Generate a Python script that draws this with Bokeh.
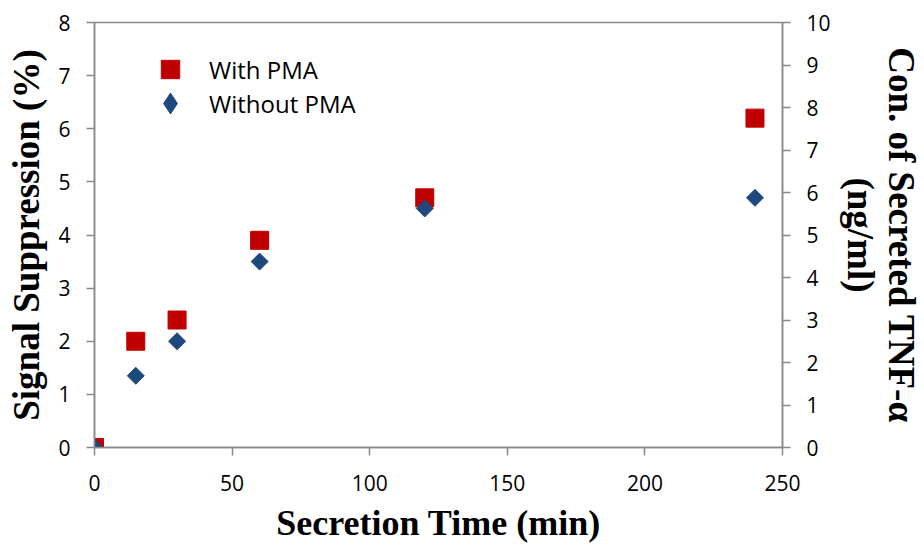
import math
from bokeh.plotting import figure
from bokeh.models import (Range1d, LinearAxis, FixedTicker, Legend, LegendItem,
                          ColumnDataSource, CDSView, IndexFilter)
from bokeh.embed import file_html
from bokeh.resources import INLINE

# ---- data ----
time_min = [0, 15, 30, 60, 120, 240]
with_pma = [0.0, 2.0, 2.4, 3.9, 4.7, 6.2]
without_pma = [0.0, 1.35, 2.0, 3.5, 4.5, 4.7]
x_ticks = [0, 50, 100, 150, 200, 250]
left_ticks = [0, 1, 2, 3, 4, 5, 6, 7, 8]
right_ticks = [0, 1, 2, 3, 4, 5, 6, 7, 8, 9, 10]

x_title = "Secretion Time (min)"
left_title = "Signal Suppression (%)"
right_title = "Con. of Secreted TNF-\u03b1\n(ng/ml)"

AXIS_COLOR = "#898989"
TICK_FONT = "Open Sans"
TITLE_FONT = "Liberation Serif"
RED = "#C00000"
BLUE = "#1F497D"

p = figure(width=924, height=545,
           x_range=Range1d(0, 250), y_range=Range1d(0, 8),
           output_backend="svg", toolbar_location=None,
           min_border_left=94, min_border_right=142,
           min_border_top=22, min_border_bottom=98)
p.extra_y_ranges = {"conc": Range1d(0, 10)}

p.xgrid.visible = False
p.ygrid.visible = False
p.outline_line_color = AXIS_COLOR
p.outline_line_width = 1.5
p.background_fill_color = "white"
p.border_fill_color = "white"

right_axis = LinearAxis(y_range_name="conc")
p.add_layout(right_axis, "right")

p.xaxis.ticker = FixedTicker(ticks=x_ticks)
p.yaxis[0].ticker = FixedTicker(ticks=left_ticks)
right_axis.ticker = FixedTicker(ticks=right_ticks)

for ax in [p.xaxis[0], p.yaxis[0], right_axis]:
    ax.axis_line_color = AXIS_COLOR
    ax.axis_line_width = 1.5
    ax.major_tick_line_color = AXIS_COLOR
    ax.major_tick_line_width = 1.5
    ax.major_tick_out = 8
    ax.major_tick_in = 0
    ax.minor_tick_line_color = None
    ax.major_label_text_font = TICK_FONT
    ax.major_label_text_font_size = "21px"
    ax.major_label_text_color = "black"
    ax.axis_label_text_font = TITLE_FONT
    ax.axis_label_text_font_style = "bold"
    ax.axis_label_text_font_size = "37px"
    ax.axis_label_text_color = "black"

bx = p.xaxis[0]
bx.axis_label = x_title
bx.axis_label_text_font_size = "36px"
bx.major_label_standoff = 19
bx.axis_label_standoff = 9

ly = p.yaxis[0]
ly.axis_label = left_title
ly.major_label_standoff = 16
ly.axis_label_standoff = 8

right_axis.axis_label = right_title
right_axis.major_label_standoff = 16
right_axis.axis_label_standoff = 6
right_axis.axis_label_text_line_height = 1.0

src = ColumnDataSource(dict(t=time_min, w=with_pma, wo=without_pma))

r1 = p.scatter("t", "w", source=src, marker="square", size=18,
               fill_color=RED, line_color=RED)
r2 = p.scatter("t", "wo", source=src, marker="square", angle=math.pi / 4, size=12,
               fill_color=BLUE, line_color=BLUE)
# legend key for the diamond series (Bokeh legends drop marker angles)
r2_key = p.scatter("t", "wo", source=src, marker="diamond", size=1,
                   fill_color=BLUE, line_color=BLUE,
                   view=CDSView(filter=IndexFilter(indices=[0])))

leg_kw = dict(padding=0, margin=0, spacing=0, border_line_color=None,
              background_fill_alpha=0, label_text_font=TICK_FONT,
              label_text_font_size="24px", label_text_color="black")
leg1 = Legend(items=[LegendItem(label="With PMA", renderers=[r1])],
              location=(53, 355), glyph_width=46, glyph_height=46,
              label_standoff=16, **leg_kw)
leg2 = Legend(items=[LegendItem(label="Without PMA", renderers=[r2_key])],
              location=(50, 318), glyph_width=52, glyph_height=52,
              label_standoff=13, **leg_kw)
p.add_layout(leg1, "center")
p.add_layout(leg2, "center")

open("out.html", "w").write(file_html(p, INLINE))
